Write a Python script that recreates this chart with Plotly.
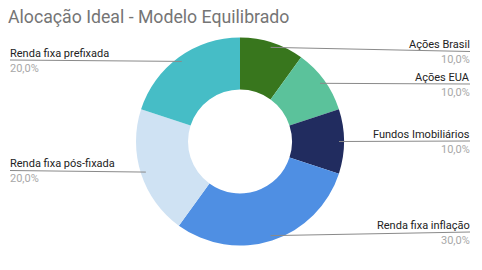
import math
import plotly.graph_objects as go

W, H = 482, 270
title = "Alocação Ideal - Modelo Equilibrado"
categories = ["Ações Brasil", "Ações EUA", "Fundos Imobiliários",
              "Renda fixa inflação", "Renda fixa pós-fixada", "Renda fixa prefixada"]
values = [10, 10, 10, 30, 20, 20]
pct_labels = ["10,0%", "10,0%", "10,0%", "30,0%", "20,0%", "20,0%"]
colors = ["#38761d", "#5bc29b", "#212c5f", "#4f8fe3", "#cfe2f3", "#46bdc6"]

# layout parameters (pixels)
cx, cy, R = 240, 141.5, 104
dot_r = 99
label_side = ["right", "right", "right", "right", "left", "left"]
label_line_y = [51.5, 84, 141, 232, 170.5, 60]
right_x, left_x = 470, 10

fig = go.Figure()
fig.add_trace(go.Pie(
    labels=categories, values=values, sort=False, direction="clockwise",
    rotation=0, hole=0.5, marker=dict(colors=colors, line=dict(width=0)),
    textinfo="none", hoverinfo="label+percent", showlegend=False,
    domain=dict(x=[(cx - R) / W, (cx + R) / W], y=[1 - (cy + R) / H, 1 - (cy - R) / H]),
))

total = sum(values)
cum = 0
dots_x, dots_y = [], []
shapes, annotations = [], []
for i, v in enumerate(values):
    mid = (cum + v / 2) / total * 2 * math.pi
    cum += v
    dx = cx + dot_r * math.sin(mid)
    dy = cy - dot_r * math.cos(mid)
    dots_x.append(dx)
    dots_y.append(dy)
    ly = label_line_y[i]
    if label_side[i] == "right":
        endx = right_x
        anchor = "right"
    else:
        endx = left_x
        anchor = "left"
    shapes.append(dict(type="path", xref="x", yref="y",
                       path=f"M {dx} {dy} L {endx} {ly}",
                       line=dict(color="#8a8a8a", width=1)))
    annotations.append(dict(x=endx, y=ly - 7, xref="x", yref="y", text=categories[i],
                            showarrow=False, xanchor=anchor, yanchor="middle",
                            font=dict(family="Roboto", size=11, color="#222222"),
                            borderpad=0, borderwidth=0))
    annotations.append(dict(x=endx, y=ly + 8, xref="x", yref="y", text=pct_labels[i],
                            showarrow=False, xanchor=anchor, yanchor="middle",
                            font=dict(family="Roboto", size=11, color="#a8a8a8"),
                            borderpad=0, borderwidth=0))

fig.add_trace(go.Scatter(x=dots_x, y=dots_y, mode="markers",
                         marker=dict(size=4, color="#9a9a9a"),
                         hoverinfo="skip", showlegend=False))

annotations.append(dict(x=8, y=17, xref="x", yref="y", text=title, showarrow=False,
                        xanchor="left", yanchor="middle",
                        font=dict(family="Roboto", size=17.7, color="#757575"),
                        borderpad=0, borderwidth=0))

fig.update_layout(
    width=W, height=H, margin=dict(l=0, r=0, t=0, b=0),
    paper_bgcolor="white", plot_bgcolor="rgba(0,0,0,0)",
    xaxis=dict(range=[0, W], visible=False, fixedrange=True, domain=[0, 1]),
    yaxis=dict(range=[H, 0], visible=False, fixedrange=True, domain=[0, 1]),
    shapes=shapes, annotations=annotations,
)
fig.write_html("out.html", config={"displayModeBar": False})
